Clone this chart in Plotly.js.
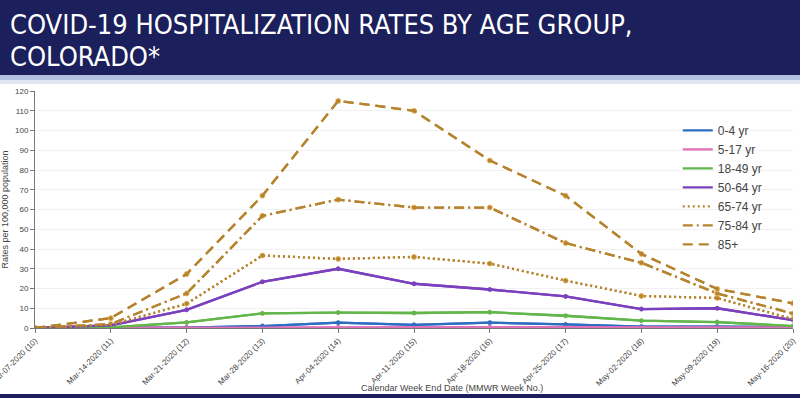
<!DOCTYPE html>
<html>
<head>
<meta charset="utf-8">
<script src="https://cdn.plot.ly/plotly-3.0.1.min.js"></script>
<style>html,body{margin:0;padding:0;background:#fff;}#chart{width:800px;height:398px;}</style>
</head>
<body>
<div id="chart"></div>
<script>
const weeks = ["Mar-07-2020 (10)","Mar-14-2020 (11)","Mar-21-2020 (12)","Mar-28-2020 (13)","Apr-04-2020 (14)","Apr-11-2020 (15)","Apr-18-2020 (16)","Apr-25-2020 (17)","May-02-2020 (18)","May-09-2020 (19)","May-16-2020 (20)"];
const seriesNames = ["0-4 yr","5-17 yr","18-49 yr","50-64 yr","65-74 yr","75-84 yr","85+"];
const age0_4   = [0, 0, 0.2, 1.0, 2.7, 1.6, 2.7, 1.8, 0.7, 0.7, 0.5];
const age5_17  = [0, 0, 0.1, 0.2, 0.3, 0.3, 0.4, 0.3, 0.3, 0.4, 0.3];
const age18_49 = [0, 0.3, 2.8, 7.4, 7.8, 7.6, 8.0, 6.2, 3.7, 3.0, 1.0];
const age50_64 = [0, 1.3, 9.2, 23.4, 30.0, 22.4, 19.5, 16.0, 9.6, 10.0, 4.0];
const age65_74 = [0, 1.5, 12.3, 36.7, 35.0, 36.0, 32.6, 24.0, 16.2, 15.2, 4.5];
const age75_84 = [0, 2.0, 17.5, 56.8, 65.0, 61.0, 61.0, 43.0, 33.0, 17.5, 7.3];
const age85p   = [0, 5.0, 27.3, 67.0, 115.0, 110.0, 84.8, 67.0, 37.5, 19.8, 12.5];
const yTicks = [0,10,20,30,40,50,60,70,80,90,100,110,120];
const titleLines = ["COVID-19 HOSPITALIZATION RATES BY AGE GROUP,", "COLORADO*"];

const values = [age0_4, age5_17, age18_49, age50_64, age65_74, age75_84, age85p];
const colors = ["#2f6dbf","#e070b8","#63b64c","#7a40bd","#b6842f","#b6842f","#b6842f"];
const dashes = ["solid","solid","solid","solid","2px,3px","10px,4px,2px,4px","10px,6px"];

// data traces (lines + markers), not in legend
const traces = values.map((v, i) => ({
  x: weeks, y: v, name: seriesNames[i], type: "scatter", mode: "lines+markers",
  showlegend: false,
  line: {color: colors[i], width: 2.3, dash: dashes[i]},
  marker: {color: colors[i], size: i >= 4 ? 5 : 4, line: {color: i >= 4 ? "#e9b866" : colors[i], width: 1}}
}));
// same lines again, lines only, for a line-only legend
values.forEach((v, i) => traces.push({
  x: weeks, y: v, name: seriesNames[i], type: "scatter", mode: "lines",
  showlegend: true, hoverinfo: "skip",
  line: {color: colors[i], width: 2.3, dash: dashes[i]}
}));

const layout = {
  width: 800, height: 398,
  margin: {l: 35, r: 7, t: 91, b: 70},
  paper_bgcolor: "#ffffff", plot_bgcolor: "#ffffff",
  font: {family: "Liberation Sans, Arial, sans-serif", color: "#444"},
  xaxis: {
    type: "category", range: [0, 10], tickangle: -45,
    tickfont: {size: 8, color: "#444"},
    showgrid: false, showline: true, linecolor: "#777", linewidth: 1,
    ticks: "outside", ticklen: 4, tickcolor: "#777", zeroline: false, fixedrange: true
  },
  yaxis: {
    range: [0, 120], tickvals: yTicks, ticktext: yTicks.map(String),
    tickfont: {size: 8, color: "#444"},
    showgrid: true, gridcolor: "#f1f1f1", gridwidth: 1,
    showline: true, linecolor: "#777", linewidth: 1,
    ticks: "outside", ticklen: 4, tickcolor: "#777", zeroline: false,
    title: {text: "Rates per 100,000 population", font: {size: 9, color: "#444"}, standoff: 6}
  },
  legend: {
    x: 0.848, xanchor: "left", y: 0.895, yanchor: "top",
    bgcolor: "rgba(0,0,0,0)", font: {size: 12, color: "#444"}, tracegroupgap: 0
  },
  annotations: [
    {text: titleLines[0], xref: "paper", yref: "paper", x: -0.036, y: 1.2827, xanchor: "left", yanchor: "middle", showarrow: false,
     font: {family: "Liberation Sans Narrow, DejaVu Sans Condensed, sans-serif", size: 27, color: "#ffffff"}},
    {text: titleLines[1], xref: "paper", yref: "paper", x: -0.036, y: 1.1435, xanchor: "left", yanchor: "middle", showarrow: false,
     font: {family: "Liberation Sans Narrow, DejaVu Sans Condensed, sans-serif", size: 27, color: "#ffffff"}},
    {text: "Calendar Week End Date (MMWR Week No.)", xref: "paper", yref: "paper",
     x: 0.55, y: -0.252, xanchor: "center", yanchor: "middle", showarrow: false,
     font: {size: 9, color: "#444"}}
  ],
  shapes: [
    {type: "rect", xref: "paper", yref: "paper", x0: -0.1, x1: 1.1, y0: 1.0675, y1: 1.45, fillcolor: "#1b1f5b", line: {width: 0}, layer: "below"},
    {type: "rect", xref: "paper", yref: "paper", x0: -0.1, x1: 1.1, y0: 1.045, y1: 1.0675, fillcolor: "#b3c1e0", line: {width: 0}, layer: "below"},
    {type: "rect", xref: "paper", yref: "paper", x0: -0.1, x1: 1.1, y0: 1.03, y1: 1.045, fillcolor: "#dfe6f3", line: {width: 0}, layer: "below"},
    {type: "rect", xref: "paper", yref: "paper", x0: -0.1, x1: 1.1, y0: -0.35, y1: -0.2785, fillcolor: "#1b1f5b", line: {width: 0}, layer: "below"}
  ],
  showlegend: true
};

Plotly.newPlot("chart", traces, layout, {displayModeBar: false, staticPlot: true});
</script>
</body>
</html>
